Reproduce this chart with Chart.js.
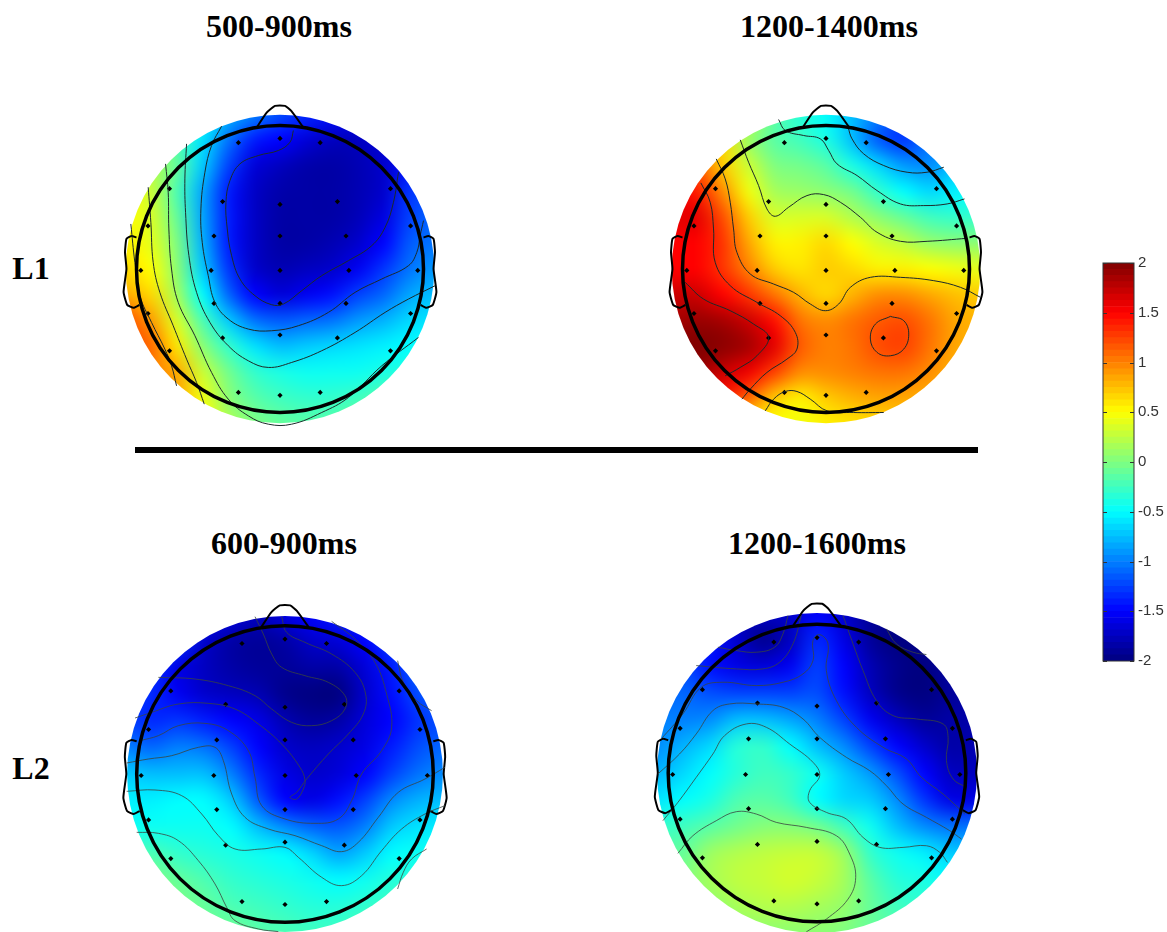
<!DOCTYPE html>
<html>
<head>
<meta charset="utf-8">
<title>Topographic maps L1 L2</title>
<script src="https://cdn.jsdelivr.net/npm/chart.js@4"></script>
<style>
html, body { margin: 0; padding: 0; background: #fff; overflow: hidden; }
#page { position: relative; width: 1167px; height: 932px; overflow: hidden; }
#page canvas { position: absolute; }
.lbl { position: absolute; font: bold 32px "Liberation Serif", serif; color: #000; white-space: nowrap; transform: translate(-50%, -50%); }
#rule { position: absolute; left: 135px; top: 447px; width: 843px; height: 6px; background: #000; }
</style>
</head>
<body>
<div id="page">
  <div class="lbl" style="left:279px;top:26px">500-900ms</div>
  <div class="lbl" style="left:829px;top:26px">1200-1400ms</div>
  <div class="lbl" style="left:284px;top:543px">600-900ms</div>
  <div class="lbl" style="left:817px;top:543px">1200-1600ms</div>
  <div class="lbl" style="left:31px;top:268px">L1</div>
  <div class="lbl" style="left:31px;top:768px">L2</div>
  <div id="rule"></div>
  <canvas id="mapL1a"></canvas>
  <canvas id="mapL1b"></canvas>
  <canvas id="mapL2a"></canvas>
  <canvas id="mapL2b"></canvas>
  <canvas id="colorbar"></canvas>
</div>
<script>
// electrode sites, percent of head radius
const electrodeX = [-29, 0, 28, -77, -40, 0, 40, 77, -92, -46, 0, 46, 91, -97, -48, 0, 48, 96, -92, -46, 0, 46, 91, -77, -40, 0, 40, 77, -29, 0, 28];
const electrodeY = [88, 91, 88, 56, 47, 45, 47, 56, 30, 23, 23, 23, 30, -1, -1, -1, -1, -1, -31, -24, -24, -24, -31, -57, -48, -46, -48, -57, -86, -88, -86];

const noseX = [-16, -9.3, -3.5, 3.5, 8, 16];
const noseY = [99, 109, 113.7, 113.7, 110, 99];
const earX = [-100, -103.5, -107, -108, -107, -109, -106.5, -102, -98];
const earY = [22, 23, 21, 11.6, 0, -16, -25, -27, -25];

// sampled grid centres, percent of head radius
const gridAxis = [-108, -90, -72, -54, -36, -18, 0, 18, 36, 54, 72, 90, 108];

// amplitude, top row first
const valuesL1a = [
  [0.5, 0.2, 0, -0.5, -0.8, -1.0, -1.2, -1.35, -1.45, -1.55, -1.55, -1.55, -1.55],
  [0.4, 0.2, -0.2, -0.6, -1.05, -1.4, -1.5, -1.65, -1.75, -1.75, -1.65, -1.55, -1.55],
  [0.4, 0.2, -0.1, -0.7, -1.25, -1.65, -1.75, -1.83, -1.85, -1.8, -1.7, -1.45, -1.4],
  [0.45, 0.3, -0.2, -0.85, -1.4, -1.72, -1.83, -1.85, -1.85, -1.8, -1.7, -1.3, -1.2],
  [0.5, 0.35, -0.1, -0.85, -1.4, -1.72, -1.85, -1.85, -1.85, -1.78, -1.62, -1.25, -1.1],
  [0.55, 0.4, 0, -0.8, -1.4, -1.72, -1.85, -1.85, -1.8, -1.7, -1.5, -1.15, -1.05],
  [0.65, 0.5, 0.05, -0.7, -1.3, -1.7, -1.8, -1.75, -1.7, -1.55, -1.3, -1.05, -0.9],
  [0.85, 0.65, 0.15, -0.5, -1.1, -1.5, -1.65, -1.55, -1.45, -1.25, -1.1, -0.85, -0.75],
  [1.2, 0.9, 0.35, -0.2, -0.7, -1.05, -1.15, -1.1, -1.05, -0.9, -0.8, -0.65, -0.6],
  [1.2, 1.1, 0.6, 0.05, -0.3, -0.6, -0.75, -0.7, -0.65, -0.6, -0.55, -0.5, -0.45],
  [1.1, 1, 0.85, 0.3, -0.05, -0.3, -0.4, -0.45, -0.45, -0.45, -0.4, -0.35, -0.3],
  [1, 1, 0.85, 0.45, 0.05, -0.15, -0.25, -0.3, -0.3, -0.25, -0.15, -0.1, -0.05],
  [1, 1, 0.85, 0.5, 0.2, 0, -0.1, -0.15, -0.15, -0.05, 0.05, 0.05, 0.05]
];
const valuesL1b = [
  [0.5, 0.5, 0.5, 0.3, -0.15, -0.35, -0.5, -0.75, -1, -1.2, -1.2, -1.2, -1.2],
  [1, 0.9, 0.65, 0.1, -0.15, -0.25, -0.4, -0.75, -1.15, -1.3, -1.05, -0.9, -0.9],
  [1.3, 1.15, 0.7, 0.3, 0, -0.05, -0.15, -0.4, -0.65, -0.9, -0.95, -0.75, -0.7],
  [1.5, 1.4, 0.95, 0.45, 0.15, 0.1, 0.05, -0.05, -0.3, -0.5, -0.65, -0.55, -0.5],
  [1.6, 1.6, 1.2, 0.7, 0.35, 0.35, 0.35, 0.2, 0.05, -0.1, -0.25, -0.3, -0.3],
  [1.5, 1.5, 1.3, 0.85, 0.55, 0.55, 0.65, 0.5, 0.35, 0.25, 0.1, 0.05, 0.05],
  [1.5, 1.5, 1.3, 1, 0.7, 0.6, 0.7, 0.65, 0.55, 0.55, 0.5, 0.45, 0.4],
  [1.7, 1.7, 1.5, 1.3, 1.05, 0.8, 0.65, 0.8, 0.95, 0.95, 0.85, 0.75, 0.7],
  [1.85, 1.9, 1.85, 1.7, 1.45, 1.05, 0.95, 1.05, 1.15, 1.2, 1.05, 0.85, 0.8],
  [2, 2, 1.95, 1.85, 1.6, 1.15, 1, 1.05, 1.2, 1.25, 1.05, 0.85, 0.8],
  [1.9, 1.9, 1.7, 1.55, 1.25, 0.95, 0.95, 1, 1.05, 1.05, 0.95, 0.8, 0.8],
  [1.4, 1.4, 1.4, 1.1, 0.7, 0.55, 0.7, 0.8, 0.85, 0.85, 0.8, 0.8, 0.8],
  [0.8, 0.8, 0.7, 0.6, 0.5, 0.45, 0.55, 0.6, 0.65, 0.7, 0.7, 0.7, 0.7]
];
const valuesL2a = [
  [-1.2, -1.2, -1.3, -1.4, -1.6, -1.75, -1.6, -1.5, -1.4, -1.25, -1.1, -1.1, -1.1],
  [-1.2, -1.2, -1.3, -1.7, -1.85, -1.9, -1.85, -1.7, -1.65, -1.5, -1.25, -1.1, -1.1],
  [-1.2, -1.3, -1.6, -1.75, -1.85, -1.9, -1.9, -1.85, -1.85, -1.65, -1.4, -1.1, -1],
  [-1.2, -1.35, -1.55, -1.7, -1.75, -1.8, -1.95, -2, -2, -1.7, -1.45, -1.2, -1.1],
  [-1.25, -1.35, -1.3, -1.4, -1.5, -1.6, -1.8, -1.9, -1.85, -1.65, -1.5, -1.3, -1.2],
  [-1, -1.1, -1, -1.05, -1.25, -1.5, -1.7, -1.75, -1.7, -1.6, -1.4, -1.2, -1.1],
  [-0.7, -0.75, -0.75, -0.75, -1, -1.35, -1.6, -1.7, -1.65, -1.5, -1.25, -1.05, -0.95],
  [-0.55, -0.55, -0.5, -0.5, -0.7, -1.15, -1.5, -1.6, -1.45, -1.25, -0.95, -0.8, -0.75],
  [-0.45, -0.45, -0.45, -0.45, -0.5, -0.75, -0.95, -1.1, -1.15, -1, -0.7, -0.6, -0.55],
  [-0.2, -0.2, -0.3, -0.35, -0.4, -0.45, -0.5, -0.65, -0.85, -0.7, -0.5, -0.45, -0.45],
  [0, 0, -0.1, -0.2, -0.3, -0.35, -0.4, -0.45, -0.5, -0.45, -0.35, -0.35, -0.35],
  [0.05, 0.05, 0, -0.1, -0.2, -0.25, -0.3, -0.35, -0.35, -0.3, -0.25, -0.25, -0.25],
  [0.05, 0.05, 0, -0.05, -0.05, -0.15, -0.2, -0.25, -0.25, -0.2, -0.2, -0.2, -0.2]
];
const valuesL2b = [
  [-1.4, -1.4, -1.5, -1.7, -1.7, -1.7, -1.5, -1.7, -1.9, -1.95, -1.9, -1.8, -1.8],
  [-1.2, -1.2, -1.4, -1.7, -1.95, -1.75, -1.35, -1.6, -1.9, -2, -1.95, -1.8, -1.8],
  [-1.15, -1.2, -1.45, -1.6, -1.65, -1.55, -1.25, -1.5, -1.8, -1.95, -2, -1.85, -1.8],
  [-1.1, -1.1, -1.2, -1.25, -1.25, -1.25, -1.2, -1.45, -1.75, -1.95, -2, -1.9, -1.85],
  [-1, -1, -0.95, -0.75, -0.75, -0.85, -1, -1.25, -1.55, -1.75, -1.9, -1.85, -1.85],
  [-0.95, -0.8, -0.65, -0.35, -0.3, -0.5, -0.75, -0.95, -1.25, -1.5, -1.7, -1.85, -1.8],
  [-0.8, -0.65, -0.5, -0.35, -0.25, -0.3, -0.45, -0.7, -0.9, -1.2, -1.5, -1.75, -1.75],
  [-0.6, -0.5, -0.4, -0.2, -0.15, -0.25, -0.5, -0.65, -0.7, -0.95, -1.3, -1.6, -1.6],
  [-0.3, -0.25, -0.15, -0.05, 0.03, 0.03, -0.05, -0.25, -0.45, -0.75, -0.95, -1.05, -1.05],
  [-0.1, -0.1, 0.12, 0.2, 0.25, 0.28, 0.28, 0.12, -0.3, -0.45, -0.55, -0.7, -0.7],
  [0, 0, 0.15, 0.25, 0.28, 0.33, 0.28, 0.15, -0.15, -0.35, -0.4, -0.5, -0.5],
  [0.05, 0.05, 0.05, 0.15, 0.2, 0.2, 0.15, 0.08, -0.1, -0.25, -0.3, -0.3, -0.3],
  [0.05, 0.05, 0.05, 0.05, 0.05, 0.05, 0.05, 0, -0.1, -0.15, -0.2, -0.2, -0.2]
];

// contour traces: x, y, x, y ...
const contoursL1a = [
  [535,105, 525,140, 490,165, 430,180, 375,205, 345,255, 333,320, 337,400, 350,480, 375,550, 420,600, 470,627, 505,625, 560,585, 620,540, 700,495, 770,450, 810,395, 835,320, 850,230],
  [320,92, 290,150, 270,230, 258,340, 262,440, 280,540, 300,620, 340,670, 400,700, 470,705, 550,690, 640,650, 720,590, 800,550, 880,510, 905,470, 915,420, 925,375],
  [215,145, 210,250, 212,350, 222,480, 245,590, 285,680, 340,750, 400,795, 460,815, 530,800, 620,765, 720,710, 810,650, 880,610, 960,570],
  [152,205, 160,290, 162,400, 170,520, 190,620, 240,720, 290,830, 340,910, 400,960, 460,985, 530,985, 620,950, 700,905, 800,810, 910,725],
  [100,275, 108,380, 115,500, 135,590, 175,690, 215,790, 245,860, 268,925],
  [48,385, 60,500, 75,600, 110,680, 150,760, 170,810, 185,870]
];
const contoursL1b = [
  [355,72, 375,105, 430,120, 480,130, 505,165, 530,205, 590,240, 650,285, 720,325, 790,330, 860,325, 912,310],
  [563,95, 575,130, 610,175, 670,210, 740,230, 800,230, 850,215],
  [240,133, 265,200, 295,270, 320,340, 345,362, 385,335, 440,300, 490,297, 540,320, 600,365, 650,410, 720,437, 800,437, 920,428],
  [168,190, 195,250, 210,320, 220,400, 230,470, 270,535, 340,565, 400,590, 450,625, 495,645, 535,625, 570,575, 630,545, 720,545, 820,555, 900,575, 960,605],
  [122,262, 150,320, 160,400, 165,500, 210,570, 290,620, 360,660, 405,710, 410,760, 380,790, 320,830, 270,880, 245,910],
  [75,560, 130,610, 210,645, 280,685, 325,725, 290,780, 240,815, 195,840],
  [690,662, 730,675, 745,715, 730,760, 690,780, 650,770, 630,730, 645,685, 690,662],
  [315,945, 340,910, 375,887, 410,887, 450,910, 500,945, 580,950, 670,950]
];
const contoursL2a = [
  [420,58, 445,110, 470,170, 500,210, 570,235, 640,255, 690,295, 690,335, 650,370, 590,385, 530,375, 470,335, 420,295, 340,265, 240,245, 130,240],
  [500,58, 515,105, 570,135, 650,170, 720,225, 752,290, 745,350, 700,410, 640,470, 575,545, 545,585, 525,600, 545,605, 565,575, 570,548, 555,510, 500,440, 430,380, 360,335, 280,318, 190,320, 110,345, 60,362],
  [650,72, 720,125, 780,195, 815,290, 830,390, 800,460, 740,530, 710,610, 670,665, 600,678, 510,665, 440,625, 420,540, 400,460, 340,400, 270,378, 190,385, 130,415, 75,430],
  [848,190, 865,255, 905,310, 950,340],
  [990,510, 930,545, 850,585, 790,660, 730,735, 680,763, 620,745, 540,715, 460,695, 390,660, 350,590, 325,490, 300,450, 250,450, 170,475, 100,485, 35,497],
  [990,625, 930,650, 860,695, 800,760, 740,835, 680,865, 620,840, 550,780, 510,750, 440,755, 360,755, 310,715, 260,650, 200,595, 120,578, 35,582],
  [65,705, 130,708, 190,730, 250,790, 300,860, 335,930, 360,970, 430,995, 490,1003],
  [935,755, 890,785, 865,825, 848,875]
];
const contoursL2b = [
  [415,55, 400,110, 375,150, 320,165, 260,160, 205,150],
  [455,55, 430,140, 390,195, 340,215, 260,215, 140,205],
  [35,425, 100,350, 155,270, 220,255, 320,265, 400,255, 460,230, 490,190, 490,130, 510,112, 535,140, 530,220, 560,310, 620,390, 700,450, 770,485, 815,540, 880,590, 945,650],
  [25,530, 90,470, 140,410, 190,340, 240,320, 320,320, 400,330, 460,365, 510,420, 590,480, 660,520, 710,565, 760,620, 830,660, 900,700, 935,725],
  [40,670, 85,615, 140,540, 190,470, 225,415, 290,380, 350,390, 420,440, 490,495, 510,535, 480,580, 480,615, 530,645, 590,665, 640,720, 690,750, 760,750, 830,745, 870,765, 893,795],
  [85,768, 130,715, 200,670, 260,643, 320,650, 380,675, 470,690, 560,715, 600,770, 618,840, 595,905, 530,965, 470,1003],
  [580,55, 610,140, 640,220, 680,310, 730,355, 800,365, 880,380, 895,420, 890,490, 910,545, 950,570],
  [710,95, 740,140, 790,165, 830,172]
];

const colorbarTicks = [-2, -1.5, -1, -0.5, 0, 0.5, 1, 1.5, 2];

function jet(v) {
  const t = (v + 2) / 4;
  const c = x => Math.round(255 * Math.max(0, Math.min(1, x)));
  return [c(Math.min(4 * t - 1.5, -4 * t + 4.5)), c(Math.min(4 * t - 0.5, -4 * t + 3.5)), c(Math.min(4 * t + 0.5, -4 * t + 2.5))];
}

function xyList(xs, ys) {
  return xs.map((x, i) => ({ x: x, y: ys[i] }));
}

// cropR is crop px per percent of head radius
function traceToHead(trace, m) {
  const pts = [];
  for (let i = 0; i < trace.length; i += 2) {
    pts.push({ x: (trace[i] - m.cropX) / m.cropR, y: (m.cropY - trace[i + 1]) / m.cropR });
  }
  return pts;
}

const HALF = 180;

const headPlugin = {
  id: 'head',
  beforeDatasetsDraw(chart, args, opts) {
    const ctx = chart.ctx, sx = chart.scales.x, sy = chart.scales.y;
    const n = gridAxis.length, step = gridAxis[1] - gridAxis[0];
    const off = document.createElement('canvas');
    off.width = n; off.height = n;
    const octx = off.getContext('2d');
    const img = octx.createImageData(n, n);
    opts.values.forEach((row, r) => row.forEach((v, c) => {
      const rgb = jet(v), k = (r * n + c) * 4;
      img.data[k] = rgb[0]; img.data[k + 1] = rgb[1]; img.data[k + 2] = rgb[2]; img.data[k + 3] = 255;
    }));
    octx.putImageData(img, 0, 0);
    const x0 = sx.getPixelForValue(gridAxis[0] - step / 2), x1 = sx.getPixelForValue(gridAxis[n - 1] + step / 2);
    const y0 = sy.getPixelForValue(gridAxis[n - 1] + step / 2), y1 = sy.getPixelForValue(gridAxis[0] - step / 2);
    ctx.save();
    ctx.beginPath();
    ctx.arc(sx.getPixelForValue(0), sy.getPixelForValue(0), sx.getPixelForValue(opts.disc) - sx.getPixelForValue(0), 0, Math.PI * 2);
    ctx.clip();
    ctx.imageSmoothingEnabled = true;
    ctx.imageSmoothingQuality = 'high';
    ctx.drawImage(off, x0, y0, x1 - x0, y1 - y0);
    ctx.restore();
  },
  afterDatasetsDraw(chart) {
    const ctx = chart.ctx, sx = chart.scales.x, sy = chart.scales.y;
    ctx.save();
    ctx.beginPath();
    ctx.arc(sx.getPixelForValue(0), sy.getPixelForValue(0), sx.getPixelForValue(100) - sx.getPixelForValue(0), 0, Math.PI * 2);
    ctx.lineWidth = 3.5;
    ctx.strokeStyle = '#000';
    ctx.stroke();
    ctx.restore();
  }
};

function drawMap(id, m) {
  const el = document.getElementById(id);
  el.style.left = (m.cx - HALF) + 'px';
  el.style.top = (m.cy - HALF) + 'px';
  el.width = HALF * 2;
  el.height = HALF * 2;
  const range = HALF / m.r * 100;
  const outline = (data) => ({ data: data, showLine: true, borderColor: '#000', borderWidth: 2, pointRadius: 0, tension: 0.15, fill: false });
  const datasets = m.contours.map(t => ({
    data: traceToHead(t, m), showLine: true, borderColor: m.lineColor, borderWidth: m.lineWidth, pointRadius: 0, tension: 0.4, fill: false
  }));
  datasets.push(outline(xyList(noseX, noseY)));
  datasets.push(outline(xyList(earX, earY)));
  datasets.push(outline(xyList(earX.map(x => -x), earY)));
  datasets.push({
    data: xyList(electrodeX, electrodeY), pointStyle: 'rectRot', pointRadius: 2.6,
    pointBackgroundColor: '#000', pointBorderWidth: 0, showLine: false
  });
  return new Chart(el.getContext('2d'), {
    type: 'scatter',
    data: { datasets: datasets },
    options: {
      responsive: false,
      animation: false,
      events: [],
      clip: false,
      layout: { padding: 0, autoPadding: false },
      plugins: { legend: { display: false }, tooltip: { enabled: false }, head: { values: m.values, disc: m.disc } },
      scales: {
        x: { type: 'linear', display: false, min: -range, max: range },
        y: { type: 'linear', display: false, min: -range, max: range }
      }
    },
    plugins: [headPlugin]
  });
}

drawMap('mapL1a', { cx: 280, cy: 268.5, r: 143.5, disc: 107.5, cropX: 495, cropY: 520, cropR: 4.3, values: valuesL1a, contours: contoursL1a, lineColor: '#1c2a2a', lineWidth: 1 });
drawMap('mapL1b', { cx: 825.7, cy: 268.5, r: 143.5, disc: 107.5, cropX: 497, cropY: 520, cropR: 4.3, values: valuesL1b, contours: contoursL1b, lineColor: '#1c2a2a', lineWidth: 1 });
drawMap('mapL2a', { cx: 285, cy: 773.7, r: 148.3, disc: 106.5, cropX: 510, cropY: 530, cropR: 4.45, values: valuesL2a, contours: contoursL2a, lineColor: '#3a4440', lineWidth: 0.8 });
drawMap('mapL2b', { cx: 817.3, cy: 772.7, r: 148.8, disc: 107.5, cropX: 502, cropY: 527, cropR: 4.46, values: valuesL2b, contours: contoursL2b, lineColor: '#3a4440', lineWidth: 0.8 });

// colour bar: 64 bands like the jet map
const barEl = document.getElementById('colorbar');
barEl.style.left = '1090px';
barEl.style.top = '250px';
barEl.width = 77;
barEl.height = 424;
const bands = [];
for (let i = 0; i < 64; i++) {
  const lo = -2 + i / 16;
  const rgb = jet(lo + 1 / 32);
  bands.push({ data: [[lo, lo + 1 / 16]], backgroundColor: 'rgb(' + rgb.join(',') + ')', borderWidth: 0, categoryPercentage: 1, barPercentage: 1, grouped: false });
}
const barFrame = {
  id: 'barFrame',
  afterDatasetsDraw(chart) {
    const ctx = chart.ctx, a = chart.chartArea, sy = chart.scales.y;
    ctx.save();
    ctx.strokeStyle = '#333';
    ctx.lineWidth = 1;
    ctx.strokeRect(a.left, a.top, a.right - a.left, a.bottom - a.top);
    colorbarTicks.forEach(t => {
      const y = Math.round(sy.getPixelForValue(t)) + 0.5;
      ctx.beginPath();
      ctx.moveTo(a.left, y); ctx.lineTo(a.left + 4, y);
      ctx.moveTo(a.right - 4, y); ctx.lineTo(a.right, y);
      ctx.stroke();
    });
    ctx.restore();
  }
};
new Chart(barEl.getContext('2d'), {
  type: 'bar',
  data: { labels: [''], datasets: bands },
  options: {
    responsive: false,
    animation: false,
    events: [],
    layout: { padding: { left: 13, top: 11, bottom: 12, right: 0 } },
    plugins: { legend: { display: false }, tooltip: { enabled: false } },
    scales: {
      x: { display: false },
      y: {
        position: 'right',
        min: -2,
        max: 2,
        afterFit(scale) { scale.width = 33; },
        afterBuildTicks(scale) { scale.ticks = colorbarTicks.map(v => ({ value: v })); },
        grid: { display: false, drawTicks: false, tickLength: 0 },
        border: { display: false },
        ticks: {
          padding: 4,
          color: '#333',
          font: { family: '"Liberation Sans", sans-serif', size: 15 },
          callback: v => String(v)
        }
      }
    }
  },
  plugins: [barFrame]
});
</script>
</body>
</html>
